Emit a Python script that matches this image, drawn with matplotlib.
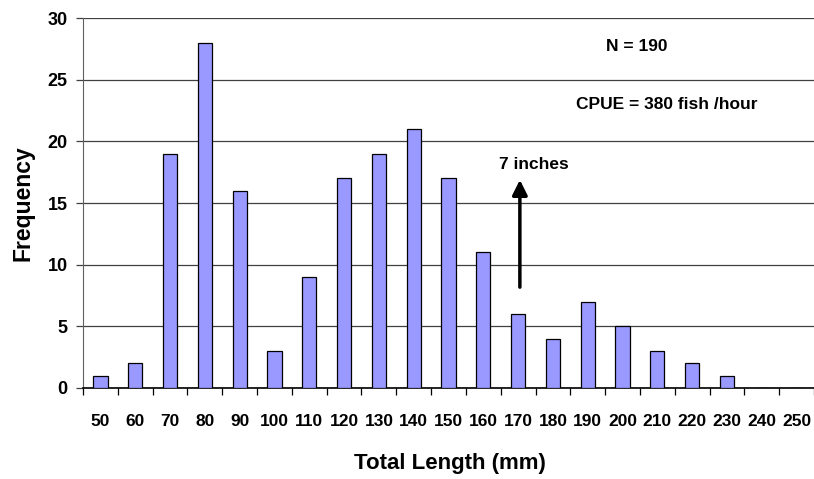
import numpy as np
from matplotlib import pyplot as plt

lengths = ['50', '60', '70', '80', '90', '100', '110', '120', '130', '140', '150',
           '160', '170', '180', '190', '200', '210', '220', '230', '240', '250']
freq = [1, 2, 19, 28, 16, 3, 9, 17, 19, 21, 17, 11, 6, 4, 7, 5, 3, 2, 1, 0, 0]
yTicks = [0, 5, 10, 15, 20, 25, 30]

plt.rcParams['font.family'] = ['Liberation Sans', 'DejaVu Sans']
plt.rcParams['font.weight'] = 'bold'

fig = plt.figure(figsize=(8.14, 4.79), dpi=100)
ax = fig.add_axes([0.102, 0.19, 0.898, 0.7724])

xPos = np.arange(len(lengths))
ax.bar(xPos, freq, width=0.41, color='#9999FF', edgecolor='black', linewidth=0.9, zorder=3)

ax.set_xlim(-0.5, len(lengths) - 0.5)
ax.set_ylim(0, 30)
ax.set_yticks(yTicks)
ax.set_yticklabels([str(v) for v in yTicks], fontsize=13, fontweight='bold')
ax.yaxis.grid(True, color='#404040', linewidth=0.9, zorder=0)
ax.tick_params(axis='y', direction='out', length=5, width=0.9, color='#404040', pad=6)

# ticks between categories, labels at category centres
ax.set_xticks(np.arange(-0.5, len(lengths), 1.0))
ax.set_xticklabels([])
ax.set_xticks(xPos, minor=True)
ax.set_xticklabels(lengths, minor=True, fontsize=12.5, fontweight='bold')
ax.tick_params(axis='x', which='major', direction='out', length=5, width=0.9, color='black')
ax.tick_params(axis='x', which='minor', length=0, pad=19)

for s in ['top', 'right']:
    ax.spines[s].set_visible(False)
ax.spines['left'].set_color('#606060')
ax.spines['bottom'].set_color('black')
ax.spines['bottom'].set_linewidth(1.2)

ax.set_xlabel('Total Length (mm)', fontsize=16, fontweight='bold', va='center')
ax.xaxis.set_label_coords(0.502, -0.205)
ax.set_ylabel('Frequency', fontsize=16.5, fontweight='bold', va='center')
ax.yaxis.set_label_coords(-0.082, 0.5)

ax.text(15.4, 27.65, 'N = 190', fontsize=12.5, fontweight='bold', ha='center', va='center')
ax.text(16.28, 22.95, 'CPUE = 380 fish /hour', fontsize=12.5, fontweight='bold', ha='center', va='center')
ax.text(12.46, 18.1, '7 inches', fontsize=12.5, fontweight='bold', ha='center', va='center')
ax.annotate('', xy=(12.05, 17.1), xytext=(12.05, 7.95),
            arrowprops=dict(arrowstyle='-|>,head_length=0.9,head_width=0.45', color='black', lw=2.5))

fig.savefig('out.png', dpi=100)
